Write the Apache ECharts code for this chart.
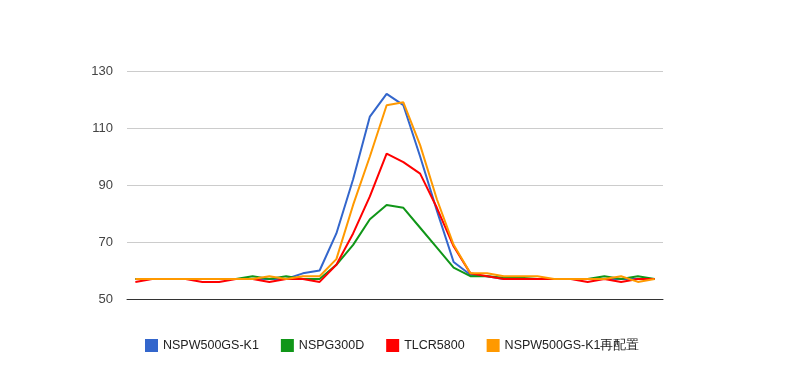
<!DOCTYPE html>
<html>
<head>
<meta charset="utf-8">
<script src="https://cdn.jsdelivr.net/npm/echarts@6/dist/echarts.min.js"></script>
<style>html,body{margin:0;padding:0;background:#fff;}#c{width:791px;height:371px;}</style>
</head>
<body>
<div id="c"></div>
<script>
const categories = ["1","2","3","4","5","6","7","8","9","10","11","12","13","14","15","16","17","18","19","20","21","22","23","24","25","26","27","28","29","30","31","32"];
const seriesNames = ["NSPW500GS-K1", "NSPG300D", "TLCR5800", "NSPW500GS-K1再配置"];
const seriesColors = ["#3366cc", "#109618", "#ff0000", "#ff9900"];
const blueValues   = [57,57,57,57,57,57,57,57,57,57,59,60,73,92,114,122,118,100,81,63,58.5,58,57,57,57,57,57,57,57,57,57,57];
const greenValues  = [57,57,57,57,57,57,57,58,57,58,57,57,62,69,78,83,82,75,68,61,58,58,57.5,57.5,57,57,57,57,58,57,58,57];
const redValues    = [56,57,57,57,56,56,57,57,56,57,57,56,62,73,86,101,98,94,82,68.5,59,58,57,57,57,57,57,56,57,56,57,57];
const orangeValues = [57,57,57,57,57,57,57,57,58,57,58,58,64,83,100,118,119,104,85,69,59,59,58,58,58,57,57,57,57,58,56,57];
const yTicks = { min: 50, max: 130, interval: 20 };

const allValues = [blueValues, greenValues, redValues, orangeValues];
const chart = echarts.init(document.getElementById('c'), null, { renderer: 'canvas' });
chart.setOption({
  animation: false,
  backgroundColor: '#ffffff',
  color: seriesColors,
  grid: { left: 127, right: 128, top: 71, bottom: 72, containLabel: false },
  legend: {
    data: seriesNames,
    left: 145,
    top: 339,
    padding: 0,
    icon: 'rect',
    itemWidth: 13,
    itemHeight: 13,
    itemGap: 22,
    textStyle: { color: '#222222', fontSize: 12.5, fontFamily: 'Liberation Sans, Arial, sans-serif' }
  },
  xAxis: {
    type: 'category',
    data: categories,
    boundaryGap: true,
    axisLine: { show: true, lineStyle: { color: '#333333', width: 1 } },
    axisTick: { show: false },
    axisLabel: { show: false },
    splitLine: { show: false }
  },
  yAxis: {
    type: 'value',
    min: yTicks.min,
    max: yTicks.max,
    interval: yTicks.interval,
    axisLine: { show: false },
    axisTick: { show: false },
    axisLabel: { color: '#444444', fontSize: 13, margin: 14, fontFamily: 'Liberation Sans, Arial, sans-serif' },
    splitLine: { show: true, lineStyle: { color: '#cccccc', width: 1 } }
  },
  series: seriesNames.map((name, k) => ({
    name: name,
    type: 'line',
    data: allValues[k],
    showSymbol: false,
    symbol: 'none',
    lineStyle: { width: 2, color: seriesColors[k] },
    itemStyle: { color: seriesColors[k] },
    z: 2 + k
  }))
});
</script>
</body>
</html>
